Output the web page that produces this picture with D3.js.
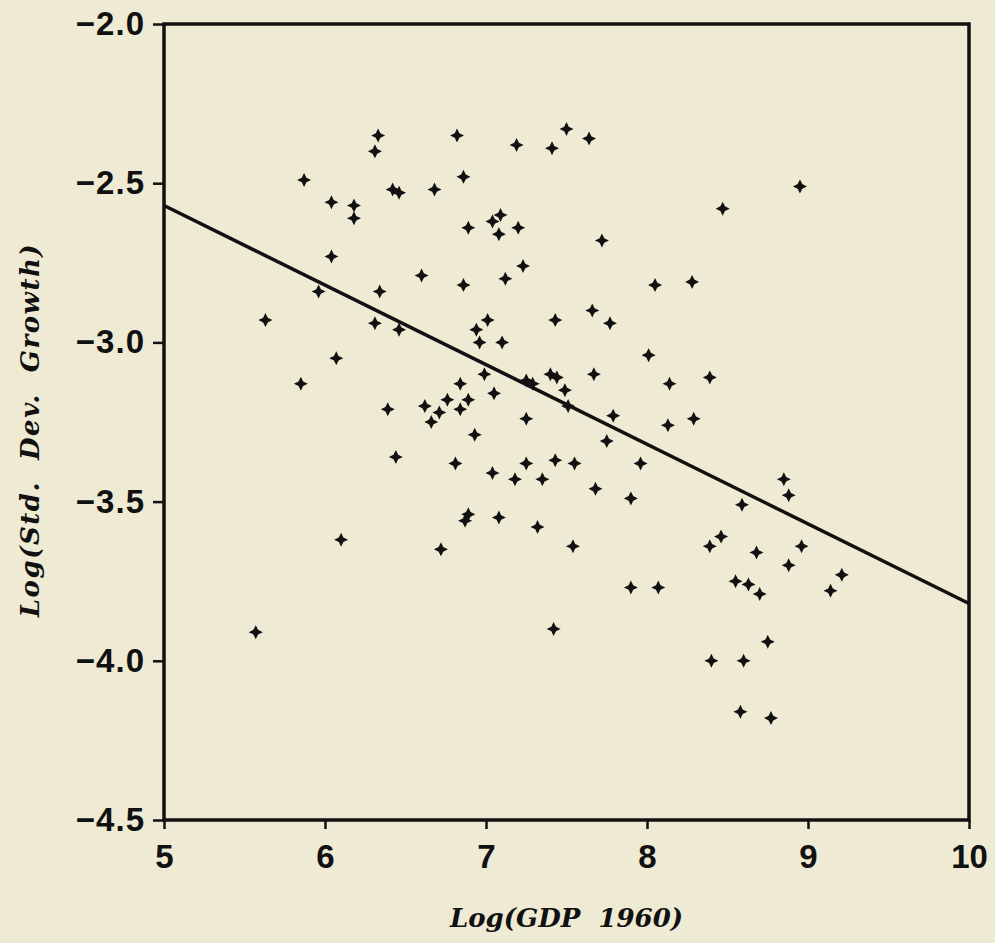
<!DOCTYPE html>
<html>
<head>
<meta charset="utf-8">
<script src="https://cdn.jsdelivr.net/npm/d3@7"></script>
<style>
  body { margin: 0; background: #efead3; }
  svg { display: block; }
</style>
</head>
<body>
<div id="chart"></div>
<script>
// scatter data
const logGdp = [
  5.87, 6.04, 6.18, 6.18, 6.04, 5.96, 6.33, 6.31, 6.42, 6.46,
  6.68, 6.82, 6.86, 6.89, 7.04, 7.09, 7.08, 7.20, 7.19, 7.41,
  7.50, 7.64, 7.72, 7.23, 6.60, 6.86, 7.12, 6.34, 7.66, 8.95,
  8.47, 8.05, 8.28, 5.63, 6.31, 6.46, 6.94, 6.96, 6.07, 5.85,
  6.84, 6.76, 6.89, 6.39, 6.62, 6.71, 6.84, 6.66, 6.93, 6.44,
  6.81, 6.89, 6.87, 6.10, 6.72, 7.43, 7.01, 7.77, 7.10, 8.01,
  6.99, 7.25, 7.29, 7.40, 7.44, 7.49, 7.67, 8.14, 8.39, 7.05,
  7.51, 7.79, 7.25, 8.13, 8.29, 7.75, 7.25, 7.43, 7.55, 7.96,
  7.04, 7.18, 7.35, 7.68, 7.90, 8.59, 7.08, 7.32, 7.54, 8.46,
  8.39, 8.68, 7.90, 8.07, 8.55, 8.63, 8.70, 8.85, 8.88, 8.96,
  8.88, 9.21, 9.14, 5.57, 7.42, 8.75, 8.40, 8.60, 8.58, 8.77
];
const logSdGrowth = [
  -2.49, -2.56, -2.57, -2.61, -2.73, -2.84, -2.35, -2.40, -2.52, -2.53,
  -2.52, -2.35, -2.48, -2.64, -2.62, -2.60, -2.66, -2.64, -2.38, -2.39,
  -2.33, -2.36, -2.68, -2.76, -2.79, -2.82, -2.80, -2.84, -2.90, -2.51,
  -2.58, -2.82, -2.81, -2.93, -2.94, -2.96, -2.96, -3.00, -3.05, -3.13,
  -3.13, -3.18, -3.18, -3.21, -3.20, -3.22, -3.21, -3.25, -3.29, -3.36,
  -3.38, -3.54, -3.56, -3.62, -3.65, -2.93, -2.93, -2.94, -3.00, -3.04,
  -3.10, -3.12, -3.13, -3.10, -3.11, -3.15, -3.10, -3.13, -3.11, -3.16,
  -3.20, -3.23, -3.24, -3.26, -3.24, -3.31, -3.38, -3.37, -3.38, -3.38,
  -3.41, -3.43, -3.43, -3.46, -3.49, -3.51, -3.55, -3.58, -3.64, -3.61,
  -3.64, -3.66, -3.77, -3.77, -3.75, -3.76, -3.79, -3.43, -3.48, -3.64,
  -3.70, -3.73, -3.78, -3.91, -3.90, -3.94, -4.00, -4.00, -4.16, -4.18
];

// fitted line end points
const fitX = [5, 10];
const fitY = [-2.57, -3.82];

const xTicks = [5, 6, 7, 8, 9, 10];
const yTicks = [-2.0, -2.5, -3.0, -3.5, -4.0, -4.5];

const margin = { top: 24, right: 26, bottom: 123, left: 164 };
const width = 995 - margin.left - margin.right;
const height = 943 - margin.top - margin.bottom;

const svg = d3
  .select("#chart")
  .append("svg")
  .attr("width", 995)
  .attr("height", 943)
  .append("g")
  .attr("transform", `translate(${margin.left},${margin.top})`);

const x = d3.scaleLinear().domain([5, 10]).range([0, width]);
const y = d3.scaleLinear().domain([-4.5, -2.0]).range([height, 0]);

const tickFont = "'Liberation Sans', Arial, sans-serif";
const titleFont = "'DejaVu Serif', serif";

// x axis
const xAxis = svg
  .append("g")
  .attr("transform", `translate(0,${height})`)
  .call(d3.axisBottom(x).tickValues(xTicks).tickFormat(d3.format("d")).tickSize(9).tickPadding(16));

// y axis
const yAxis = svg
  .append("g")
  .call(d3.axisLeft(y).tickValues(yTicks).tickFormat(d3.format(".1f")).tickSize(11).tickPadding(8));

[xAxis, yAxis].forEach((g) => {
  g.select(".domain").remove();
  g.selectAll("line").attr("stroke", "#111").attr("stroke-width", 2.5);
  g.selectAll("text")
    .attr("fill", "#111")
    .style("font-family", tickFont)
    .style("font-weight", "bold")
    .style("font-size", "33px");
});
yAxis.selectAll("text").style("letter-spacing", "1px");

// frame
svg
  .append("rect")
  .attr("x", 0)
  .attr("y", 0)
  .attr("width", width)
  .attr("height", height)
  .attr("fill", "none")
  .attr("stroke", "#111")
  .attr("stroke-width", 3.5);

// regression line
svg
  .append("line")
  .attr("x1", x(fitX[0]))
  .attr("y1", y(fitY[0]))
  .attr("x2", x(fitX[1]))
  .attr("y2", y(fitY[1]))
  .attr("stroke", "#111")
  .attr("stroke-width", 3.5);

// small four pointed markers
const star = "M0,-7L2.3,-2.3L7,0L2.3,2.3L0,7L-2.3,2.3L-7,0L-2.3,-2.3Z";
svg
  .selectAll("path.pt")
  .data(logGdp.map((d, i) => [d, logSdGrowth[i]]))
  .enter()
  .append("path")
  .attr("class", "pt")
  .attr("d", star)
  .attr("transform", (d) => `translate(${x(d[0])},${y(d[1])})`)
  .attr("fill", "#111");

// axis titles
svg
  .append("text")
  .attr("x", width / 2)
  .attr("y", height + 107)
  .attr("text-anchor", "middle")
  .style("font-family", titleFont)
  .style("font-weight", "bold")
  .style("font-style", "italic")
  .style("font-size", "26px")
  .style("white-space", "pre")
  .attr("fill", "#111")
  .text("Log(GDP  1960)");

svg
  .append("text")
  .attr("transform", `translate(${-125},${406}) rotate(-90)`)
  .attr("text-anchor", "middle")
  .style("font-family", titleFont)
  .style("font-weight", "bold")
  .style("font-style", "italic")
  .style("font-size", "26px")
  .style("white-space", "pre")
  .style("letter-spacing", "1.5px")
  .attr("fill", "#111")
  .text("Log(Std.  Dev.  Growth)");
</script>
</body>
</html>
